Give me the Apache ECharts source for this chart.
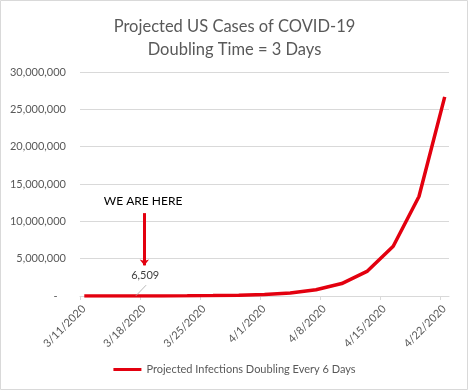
<!DOCTYPE html>
<html><head><meta charset="utf-8">
<script src="https://cdn.jsdelivr.net/npm/echarts@6/dist/echarts.min.js"></script>
<style>html,body{margin:0;padding:0;background:#fff}#c{width:469px;height:391px}</style>
</head><body><div id="c"></div>
<script>
const titleLines = ['Projected US Cases of COVID-19', 'Doubling Time = 3 Days'];
const seriesName = 'Projected Infections Doubling Every 6 Days';
const dates = ['3/11/2020','3/14/2020','3/17/2020','3/20/2020','3/23/2020','3/26/2020','3/29/2020','4/1/2020','4/4/2020','4/7/2020','4/10/2020','4/13/2020','4/16/2020','4/19/2020','4/22/2020'];
const cases = [1627, 3254, 6509, 13018, 26036, 52072, 104144, 208288, 416576, 833152, 1666304, 3332608, 6665216, 13330432, 26660864];
const tickDates = ['3/11/2020','3/18/2020','3/25/2020','4/1/2020','4/8/2020','4/15/2020','4/22/2020'];
const yTicks = [0, 5000000, 10000000, 15000000, 20000000, 25000000, 30000000];
const labelledDate = '3/17/2020';
const annotationText = 'WE ARE HERE';
const axisEndDate = '4/23/2020';

const DAY = 86400000;
function parse(s){const p=s.split('/').map(Number);return Date.UTC(p[2],p[0]-1,p[1]);}
const t0 = parse(dates[0]);
const dayOf = s => (parse(s)-t0)/DAY;
function fmtDay(d){const dt=new Date(t0+Math.round(d)*DAY);return (dt.getUTCMonth()+1)+'/'+dt.getUTCDate()+'/'+dt.getUTCFullYear();}
const fmtNum = v => v===0 ? '-   ' : v.toLocaleString('en-US');

const FONT = 'Lato, "Open Sans", sans-serif';
const RED = '#e3000f';
const labelIdx = dates.indexOf(labelledDate);
const lx = dayOf(labelledDate)+0.5;

const data = dates.map((d,i)=>[dayOf(d)+0.5, cases[i]]);

const chart = echarts.init(document.getElementById('c'));
chart.setOption({
  animation:false,
  title:{text:titleLines.join('\n'), left:'center', top:10, textStyle:{fontFamily:FONT, fontSize:16.5, fontWeight:'normal', color:'#595959', lineHeight:23}},
  grid:{left:80, right:20, top:72, bottom:95},
  xAxis:{type:'value', min:0, max:dayOf(axisEndDate),
    axisLine:{show:true, lineStyle:{color:'#d9d9d9'}},
    axisTick:{show:true, length:4, lineStyle:{color:'#d9d9d9'}, customValues: tickDates.map(dayOf)},
    axisLabel:{rotate:45, margin:7, verticalAlign:'top', color:'#595959', fontSize:11, fontFamily:FONT, customValues: tickDates.map(dayOf), formatter: v=>fmtDay(v)},
    splitLine:{show:false}},
  yAxis:{type:'value', min:yTicks[0], max:yTicks[yTicks.length-1], interval:yTicks[1]-yTicks[0],
    axisLine:{show:false}, axisTick:{show:false},
    axisLabel:{margin:14, color:'#595959', fontSize:11, fontFamily:FONT, formatter: fmtNum},
    splitLine:{lineStyle:{color:'#d9d9d9'}}},
  legend:{bottom:11, left:'center', icon:'rect', itemWidth:28, itemHeight:3, itemGap:10,
    textStyle:{color:'#595959', fontSize:11, fontFamily:FONT}, data:[seriesName]},
  series:[{
    name:seriesName, type:'line', data:data, showSymbol:false, symbol:'none',
    lineStyle:{color:RED, width:3.5}, itemStyle:{color:RED},
    markLine:{silent:true, animation:false,
      data:[
        [{coord:[lx+1, 11100000], symbol:'none', lineStyle:{color:RED, width:3, type:'solid'}},
         {coord:[lx+1, 4100000], symbol:'arrow', symbolSize:[7,6]}],
        [{coord:[lx, cases[labelIdx]], symbol:'none', lineStyle:{color:'#a6a6a6', width:0.8, type:'solid'}},
         {coord:[lx+1.2, 1450000], symbol:'none'}]
      ],
      label:{show:false}},
    markPoint:{silent:true, symbol:'circle', symbolSize:0,
      data:[
        {coord:[lx+0.85, 12750000], label:{show:true, formatter:annotationText, position:'inside', color:'#000', fontSize:12, fontFamily:FONT}},
        {coord:[lx+1.1, 2700000], label:{show:true, formatter:fmtNum(cases[labelIdx]), position:'inside', color:'#404040', fontSize:11, fontFamily:FONT}}
      ]}
  }],
  graphic:[{type:'rect', shape:{x:0.5, y:0.5, width:467, height:389}, style:{fill:'none', stroke:'#d9d9d9', lineWidth:1}, silent:true}]
});
</script></body></html>
